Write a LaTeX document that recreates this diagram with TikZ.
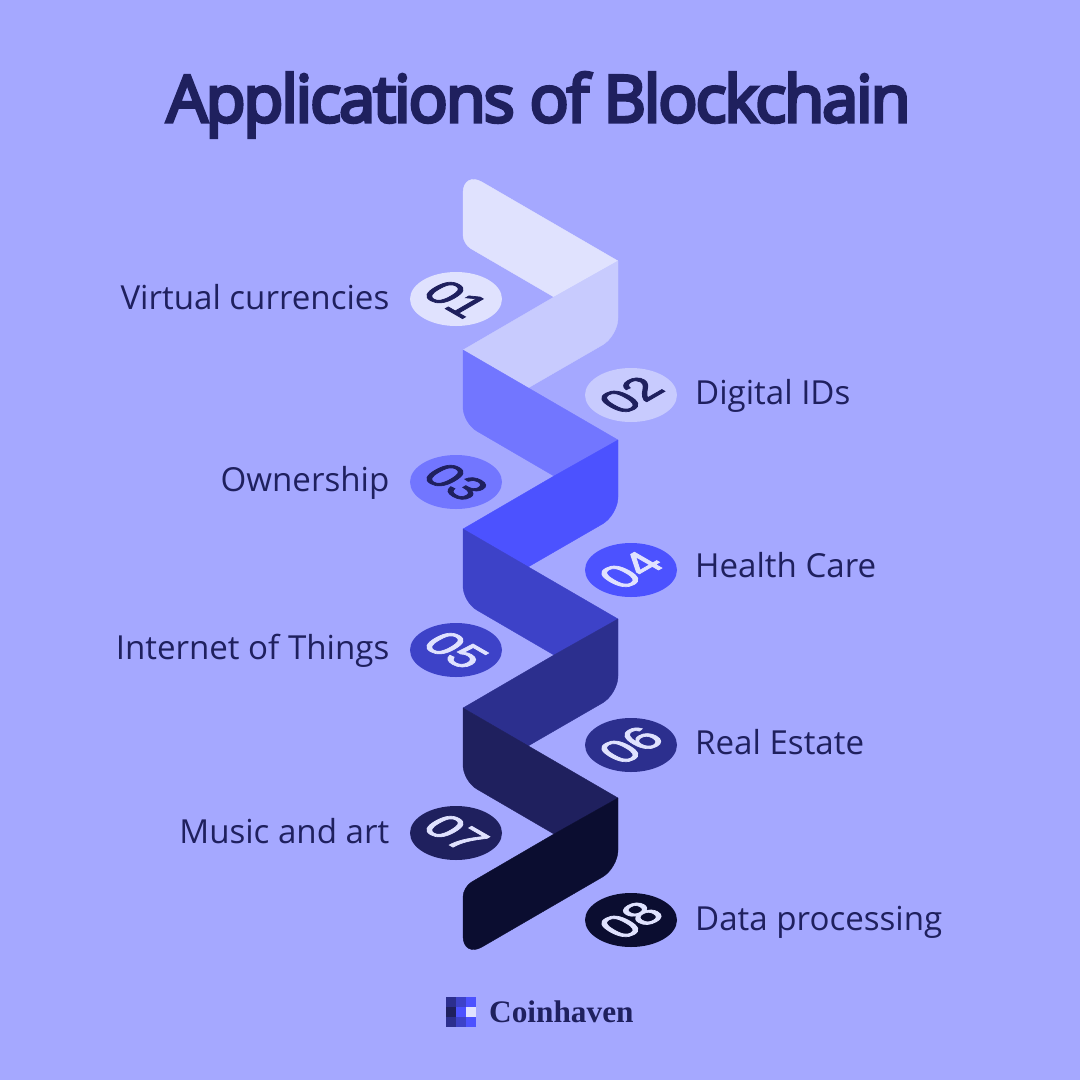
\documentclass[tikz,border=0pt]{standalone}
\usepackage{fontspec}
\usepackage{xcolor}
\setmainfont{Open Sans}
\newfontfamily\titlefont[LetterSpace=-3.1,FakeBold=5]{Open Sans}
\newfontfamily\logofont{Liberation Serif}
\newfontfamily\numfont[FakeBold=2]{Liberation Sans}
\definecolor{bgviolet}{HTML}{A5A8FF}
\definecolor{inkblue}{HTML}{1F205E}
\definecolor{bandA}{HTML}{E0E2FE}
\definecolor{bandB}{HTML}{C8CBFE}
\definecolor{bandC}{HTML}{7276FF}
\definecolor{bandD}{HTML}{4C52FF}
\definecolor{bandE}{HTML}{3D42C8}
\definecolor{bandF}{HTML}{2C2F8E}
\definecolor{bandG}{HTML}{1F205E}
\definecolor{bandH}{HTML}{0B0D30}
\usetikzlibrary{shapes.geometric}
\tikzset{
    ribbon/.style={line width=0.4pt, line join=round},
    disc/.style={ellipse, minimum width=92pt, minimum height=54pt, inner sep=0pt},
    numodd/.style={cm={0.866,-0.5,0.866,0.5,(0,0)}, font=\fontsize{46}{46}\numfont},
    numeven/.style={cm={0.866,0.5,-0.866,0.5,(0,0)}, font=\fontsize{46}{46}\numfont},
    lableft/.style={anchor=base east, inner sep=0pt, text=inkblue, font=\fontsize{33.1}{34}\selectfont},
    labright/.style={anchor=base west, inner sep=0pt, text=inkblue, font=\fontsize{33.1}{34}\selectfont},
    logocell/.style={minimum size=10pt, inner sep=0pt, anchor=north west}
}

\begin{document}
\begin{tikzpicture}[x=1pt, y=-1pt]
        \useasboundingbox[fill=bgviolet] (0,0) rectangle (1080,1080);

        % Title
        \node[anchor=base, text=inkblue, inner sep=0pt, font=\fontsize{65}{65}\titlefont] (title) at (538.5,122) {Applications of Blockchain};

        % Draw the ribbon
        \filldraw[bandA, ribbon] (618,261) -- (554,297) [rounded corners=9pt] -- (463,244) [rounded corners=22pt] -- (463,171) [sharp corners] -- cycle;
        \filldraw[bandB, ribbon] (618,261) [rounded corners=18pt] -- (618,336) [sharp corners] -- (528,388) -- (463,350) -- (554,297) -- cycle;
        \filldraw[bandC, ribbon] (463,350) -- (618,440) -- (554,476) [rounded corners=16pt] -- (463,423) [sharp corners] -- cycle;
        \filldraw[bandD, ribbon] (618,440) [rounded corners=18pt] -- (618,515) [sharp corners] -- (528,567) -- (463,529) -- (554,476) -- cycle;
        \filldraw[bandE, ribbon] (463,529) -- (618,619) -- (554,655) [rounded corners=16pt] -- (463,602) [sharp corners] -- cycle;
        \filldraw[bandF, ribbon] (618,619) [rounded corners=18pt] -- (618,694) [sharp corners] -- (528,746) -- (463,708) -- (554,655) -- cycle;
        \filldraw[bandG, ribbon] (463,708) -- (618,798) -- (554,834) [rounded corners=16pt] -- (463,781) [sharp corners] -- cycle;
        \filldraw[bandH, ribbon] (618,798) [rounded corners=18pt] -- (618,868) [rounded corners=22pt] -- (463,958) [rounded corners=10pt] -- (463,887) [sharp corners] -- (554,834) -- cycle;

        % Draw the discs and their numbers
        \node[disc, fill=bandA] (disc1) at (456,299) {};
        \node[disc, fill=bandB] (disc2) at (631,395) {};
        \node[disc, fill=bandC] (disc3) at (456,482) {};
        \node[disc, fill=bandD] (disc4) at (631,570) {};
        \node[disc, fill=bandE] (disc5) at (456,650) {};
        \node[disc, fill=bandF] (disc6) at (631,745) {};
        \node[disc, fill=bandG] (disc7) at (456,833) {};
        \node[disc, fill=bandH] (disc8) at (631,920) {};

        \node[numodd, text=inkblue] (num1) at (disc1) {01};
        \node[numeven, text=inkblue] (num2) at (disc2) {02};
        \node[numodd, text=inkblue] (num3) at (disc3) {03};
        \node[numeven, text=bandA] (num4) at (disc4) {04};
        \node[numodd, text=bandA] (num5) at (disc5) {05};
        \node[numeven, text=bandA] (num6) at (disc6) {06};
        \node[numodd, text=bandA] (num7) at (disc7) {07};
        \node[numeven, text=bandA] (num8) at (disc8) {08};

        % Labels
        \node[lableft] (lab1) at (389.5,309) {Virtual currencies};
        \node[labright] (lab2) at (695,404) {Digital IDs};
        \node[lableft] (lab3) at (389.5,491) {Ownership};
        \node[labright] (lab4) at (695,577) {Health Care};
        \node[lableft] (lab5) at (389.5,659) {Internet of Things};
        \node[labright] (lab6) at (695,754) {Real Estate};
        \node[lableft] (lab7) at (389.5,843) {Music and art};
        \node[labright] (lab8) at (695,930) {Data processing};

        % Logo
        \node[logocell, fill=bandF] (cell11) at (446,997) {};
        \node[logocell, fill=bandE] (cell12) at (456,997) {};
        \node[logocell, fill=bandD] (cell13) at (466,997) {};
        \node[logocell, fill=bandG] (cell21) at (446,1007) {};
        \node[logocell, fill=bandD] (cell22) at (456,1007) {};
        \node[logocell, fill=bandA] (cell23) at (466,1007) {};
        \node[logocell, fill=bandF] (cell31) at (446,1017) {};
        \node[logocell, fill=bandE] (cell32) at (456,1017) {};
        \node[logocell, fill=bandD] (cell33) at (466,1017) {};
        \node[anchor=base west, inner sep=0pt, text=inkblue, font=\fontsize{31.3}{32}\logofont\bfseries] (brand) at (489,1022) {Coinhaven};
    \end{tikzpicture}
\end{document}
